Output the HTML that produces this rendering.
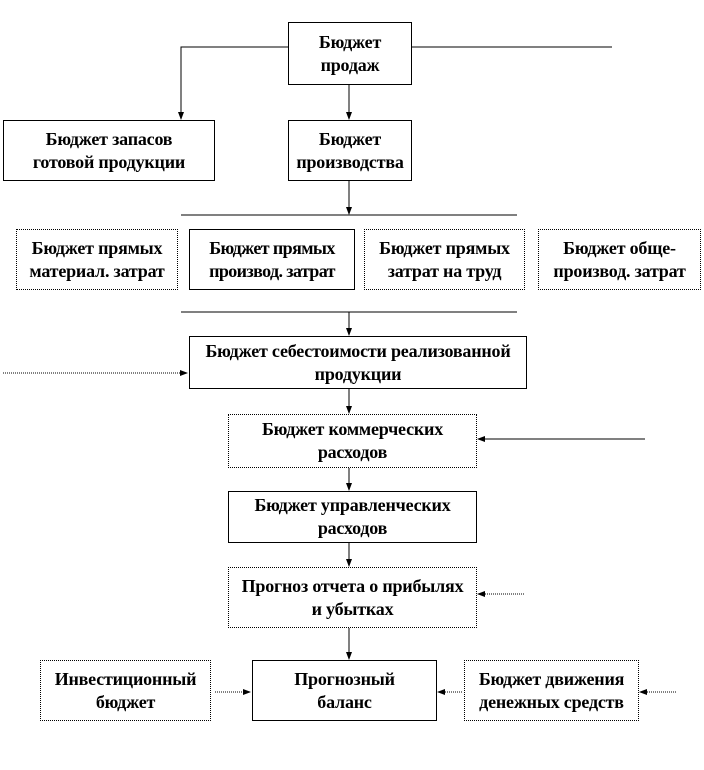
<!DOCTYPE html>
<html><head><meta charset="utf-8"><style>
body{margin:0;background:#fff;width:704px;height:770px;position:relative;overflow:hidden;font-family:"Liberation Serif",serif;}
.b{position:absolute;box-sizing:border-box;border:1px solid #000;display:flex;align-items:center;justify-content:center;text-align:center;font-weight:bold;font-size:18px;line-height:23px;letter-spacing:-0.2px;background:#fff;white-space:nowrap}
.d{border:1px dotted #000}
svg{position:absolute;left:0;top:0}
</style></head><body>
<svg width="704" height="770">
<defs><marker id="a" markerWidth="8" markerHeight="8" refX="7" refY="4" orient="auto" markerUnits="userSpaceOnUse"><path d="M0,1 L8,4 L0,7 z" fill="#000"/></marker></defs>
<g stroke="#000" stroke-width="1" fill="none">
<polyline points="288,47 181,47 181,119" marker-end="url(#a)"/>
<line x1="412" y1="47" x2="612" y2="47"/>
<line x1="349" y1="85" x2="349" y2="119" marker-end="url(#a)"/>
<line x1="349" y1="180" x2="349" y2="214" marker-end="url(#a)"/>
<line x1="181" y1="215" x2="517" y2="215"/>
<line x1="181" y1="312" x2="517" y2="312"/>
<line x1="349" y1="312" x2="349" y2="335" marker-end="url(#a)"/>
<line x1="3" y1="373" x2="187" y2="373" stroke-dasharray="1,1" marker-end="url(#a)"/>
<line x1="349" y1="388" x2="349" y2="413" marker-end="url(#a)"/>
<line x1="645" y1="439" x2="478" y2="439" marker-end="url(#a)"/>
<line x1="349" y1="467" x2="349" y2="490" marker-end="url(#a)"/>
<line x1="349" y1="542" x2="349" y2="566" marker-end="url(#a)"/>
<line x1="524" y1="594" x2="478" y2="594" stroke-dasharray="1,1" marker-end="url(#a)"/>
<line x1="349" y1="627" x2="349" y2="659" marker-end="url(#a)"/>
<line x1="215" y1="692" x2="250" y2="692" stroke-dasharray="1,1" marker-end="url(#a)"/>
<line x1="462" y1="692" x2="438" y2="692" stroke-dasharray="1,1" marker-end="url(#a)"/>
<line x1="676" y1="692" x2="640" y2="692" stroke-dasharray="1,1" marker-end="url(#a)"/>
</g></svg>
<div class="b" style="left:288px;top:22px;width:124px;height:63px">Бюджет<br>продаж</div>
<div class="b" style="left:3px;top:120px;width:212px;height:61px">Бюджет запасов<br>готовой продукции</div>
<div class="b" style="left:288px;top:120px;width:124px;height:61px">Бюджет<br>производства</div>
<div class="b d" style="left:16px;top:229px;width:162px;height:61px">Бюджет прямых<br>материал. затрат</div>
<div class="b" style="left:189px;top:229px;width:166px;height:61px;letter-spacing:-0.6px">Бюджет прямых<br>производ. затрат</div>
<div class="b d" style="left:364px;top:229px;width:161px;height:61px">Бюджет прямых<br>затрат на труд</div>
<div class="b d" style="left:538px;top:229px;width:163px;height:61px">Бюджет обще-<br>производ. затрат</div>
<div class="b" style="left:189px;top:336px;width:338px;height:53px">Бюджет себестоимости реализованной<br>продукции</div>
<div class="b d" style="left:228px;top:414px;width:249px;height:54px">Бюджет коммерческих<br>расходов</div>
<div class="b" style="left:228px;top:491px;width:249px;height:52px">Бюджет управленческих<br>расходов</div>
<div class="b d" style="left:228px;top:567px;width:249px;height:61px">Прогноз отчета о прибылях<br>и убытках</div>
<div class="b d" style="left:40px;top:660px;width:171px;height:61px">Инвестиционный<br>бюджет</div>
<div class="b" style="left:252px;top:660px;width:185px;height:61px">Прогнозный<br>баланс</div>
<div class="b d" style="left:464px;top:660px;width:175px;height:61px">Бюджет движения<br>денежных средств</div>
</body></html>
